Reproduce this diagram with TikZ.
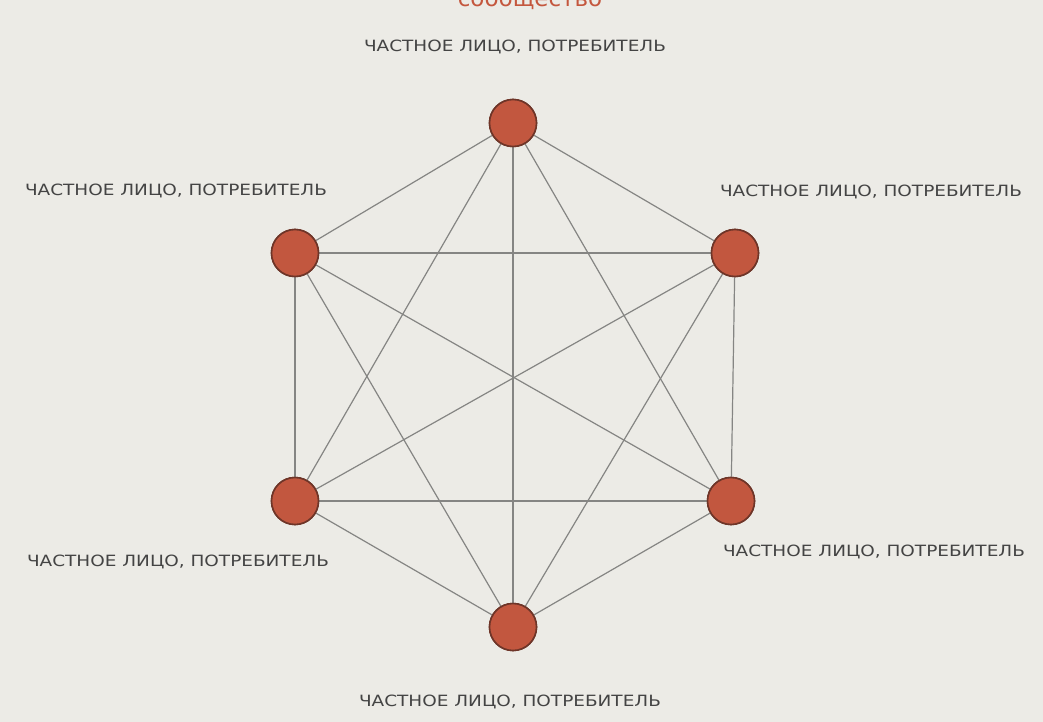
\documentclass[tikz,border=0pt]{standalone}
\usepackage{fontspec}
\setmainfont{DejaVu Sans}
\definecolor{bgc}{HTML}{ECEBE6}
\definecolor{dotc}{HTML}{C2573F}
\definecolor{dotb}{HTML}{6E3528}
\definecolor{linec}{HTML}{858583}
\definecolor{txtc}{HTML}{444444}
\definecolor{redt}{HTML}{C4573E}
\tikzset{
  person/.style={circle, fill=dotc, draw=dotb, line width=1.6pt, minimum size=47pt, inner sep=0pt},
  link/.style={draw=linec, line width=1.2pt},
  lbl/.style={text=txtc, font=\fontsize{15.5}{18}\selectfont, inner sep=0pt, anchor=center},
  ttl/.style={text=redt, font=\fontsize{23}{27}\selectfont, inner sep=0pt, anchor=base}
}
\newcommand{\lbltext}{\scalebox{1.19}[1]{ЧАСТНОЕ ЛИЦО, ПОТРЕБИТЕЛЬ}}
\begin{document}
\begin{tikzpicture}[x=1pt,y=-1pt]
\useasboundingbox (0,0) rectangle (1043,722);
\clip (0,0) rectangle (1043,722);
\fill[bgc] (0,0) rectangle (1043,722);
\node[ttl] (title) at (530,7) {сообщество};
\node[person] (t) at (513,123) {};
\node[person] (ul) at (295,253) {};
\node[person] (ur) at (735,253) {};
\node[person] (ll) at (295,501) {};
\node[person] (lr) at (731,501) {};
\node[person] (b) at (513,627) {};
\foreach \a/\c in {t/ul,t/ur,t/ll,t/lr,t/b,ul/ur,ul/ll,ul/lr,ul/b,ur/ll,ur/lr,ur/b,ll/lr,ll/b,lr/b}{
  \draw[link] (\a) -- (\c);
}
\node[person] at (t) {};
\node[person] at (ul) {};
\node[person] at (ur) {};
\node[person] at (ll) {};
\node[person] at (lr) {};
\node[person] at (b) {};
\node[lbl] (lt) at (515,47) {\lbltext};
\node[lbl] (lul) at (176,191) {\lbltext};
\node[lbl] (lur) at (871,192) {\lbltext};
\node[lbl] (lll) at (178,562) {\lbltext};
\node[lbl] (llr) at (874,552) {\lbltext};
\node[lbl] (lb) at (510,702) {\lbltext};
\end{tikzpicture}
\end{document}
